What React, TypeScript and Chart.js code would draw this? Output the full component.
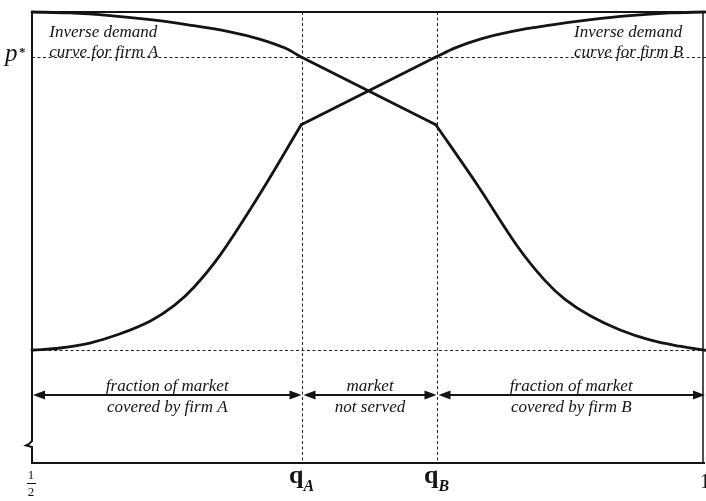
import React, { useEffect, useRef } from "react";
import { Chart, registerables } from "chart.js";

Chart.register(...registerables);

// Key quantities (x: market position from 1/2 to 1, y: price, floor..top)
const qA = 0.7;
const qB = 0.8;
const pStar = 0.9;
const floorPrice = 0.25;

// Inverse demand curve for firm A
const aLeftX = [0.5, 0.528, 0.558, 0.588, 0.617, 0.647, 0.669, 0.688, 0.7];
const aLeftY = [1.0, 0.998, 0.992, 0.983, 0.971, 0.956, 0.94, 0.92, 0.9];
const aMidX = [0.7, 0.8];
const aMidY = [0.9, 0.75];
const aRightX = [0.8, 0.831, 0.861, 0.881, 0.896, 0.915, 0.937, 0.959, 0.981, 1.0];
const aRightY = [0.75, 0.616, 0.479, 0.405, 0.363, 0.326, 0.295, 0.273, 0.259, 0.25];

// Inverse demand curve for firm B
const bLeftX = [0.5, 0.521, 0.543, 0.565, 0.588, 0.606, 0.621, 0.64, 0.67, 0.7];
const bLeftY = [0.25, 0.255, 0.266, 0.286, 0.315, 0.35, 0.392, 0.462, 0.6, 0.75];
const bMidX = [0.7, 0.8];
const bMidY = [0.75, 0.9];
const bRightX = [0.8, 0.814, 0.833, 0.855, 0.885, 0.915, 0.944, 0.974, 1.0];
const bRightY = [0.9, 0.92, 0.94, 0.956, 0.971, 0.983, 0.992, 0.998, 1.0];

// Texts
const labelA = ["Inverse demand", "curve for firm A"];
const labelB = ["Inverse demand", "curve for firm B"];
const spanA = ["fraction of market", "covered by firm A"];
const spanMid = ["market", "not served"];
const spanB = ["fraction of market", "covered by firm B"];

const INK = "#141414";
const SERIF = "'Liberation Serif', 'Times New Roman', serif";

const pts = (xs: number[], ys: number[]) => xs.map((x, i) => ({ x, y: ys[i] }));

const curve = (xs: number[], ys: number[], smooth: boolean) => ({
  data: pts(xs, ys),
  borderColor: INK,
  borderWidth: 2.8,
  pointRadius: 0,
  fill: false,
  clip: false as any,
  cubicInterpolationMode: "default",
  tension: smooth ? 0.35 : 0,
  borderJoinStyle: "round",
  borderCapStyle: "round",
});

const overlay = {
  id: "overlay",
  beforeDatasetsDraw(chart: any) {
    const { ctx, chartArea: a, scales } = chart;
    const xs = scales.x, ys = scales.y;
    ctx.save();
    ctx.strokeStyle = "#262626";
    ctx.lineWidth = 1;
    ctx.setLineDash([3, 2.5]);
    const yP = Math.round(ys.getPixelForValue(pStar)) + 0.5;
    const yF = Math.round(ys.getPixelForValue(floorPrice)) + 0.5;
    ctx.beginPath();
    ctx.moveTo(a.left, yP);
    ctx.lineTo(a.right + 1, yP);
    ctx.moveTo(a.left, yF);
    ctx.lineTo(a.right + 1, yF);
    [qA, qB].forEach((q) => {
      const px = Math.round(xs.getPixelForValue(q)) + 1.5;
      ctx.moveTo(px, a.top);
      ctx.lineTo(px, a.bottom);
    });
    ctx.stroke();
    ctx.restore();
  },
  afterDatasetsDraw(chart: any) {
    const { ctx, chartArea: a, scales } = chart;
    const xs = scales.x, ys = scales.y;
    ctx.save();
    ctx.strokeStyle = INK;
    ctx.fillStyle = INK;
    ctx.setLineDash([]);

    // frame with axis break on the left side
    ctx.lineWidth = 2;
    ctx.lineJoin = "miter";
    ctx.beginPath();
    ctx.moveTo(a.right, a.top);
    ctx.lineTo(a.left, a.top);
    ctx.lineTo(a.left, a.bottom - 22);
    ctx.lineTo(a.left - 3, a.bottom - 19);
    ctx.lineTo(a.left - 6, a.bottom - 17.5);
    ctx.lineTo(a.left, a.bottom - 16);
    ctx.lineTo(a.left, a.bottom);
    ctx.lineTo(a.right, a.bottom);
    ctx.stroke();
    ctx.lineWidth = 1.5;
    ctx.beginPath();
    ctx.moveTo(a.right - 2, a.top);
    ctx.lineTo(a.right - 2, a.bottom);
    ctx.stroke();

    // double-headed arrows
    const yArr = ys.getPixelForValue(0.151);
    const head = 12, hw = 4.5;
    const arrow = (x1: number, x2: number) => {
      ctx.lineWidth = 2;
      ctx.beginPath();
      ctx.moveTo(x1 + head - 2, yArr);
      ctx.lineTo(x2 - head + 2, yArr);
      ctx.stroke();
      ctx.beginPath();
      ctx.moveTo(x1, yArr);
      ctx.lineTo(x1 + head, yArr - hw);
      ctx.lineTo(x1 + head, yArr + hw);
      ctx.closePath();
      ctx.fill();
      ctx.beginPath();
      ctx.moveTo(x2, yArr);
      ctx.lineTo(x2 - head, yArr - hw);
      ctx.lineTo(x2 - head, yArr + hw);
      ctx.closePath();
      ctx.fill();
    };
    const pxA = Math.round(xs.getPixelForValue(qA)) + 1.5;
    const pxB = Math.round(xs.getPixelForValue(qB)) + 1.5;
    const pL = xs.getPixelForValue(0.5);
    const pR = xs.getPixelForValue(1);
    arrow(pL + 1, pxA - 1);
    arrow(pxA + 1, pxB - 1);
    arrow(pxB + 1, pR);

    // span texts
    ctx.font = `italic 17px ${SERIF}`;
    ctx.textAlign = "center";
    ctx.textBaseline = "alphabetic";
    const span = (lines: string[], cx: number) => {
      ctx.fillText(lines[0], cx, yArr - 4);
      ctx.fillText(lines[1], cx, yArr + 17);
    };
    span(spanA, (pL + pxA) / 2);
    span(spanMid, (pxA + pxB) / 2);
    span(spanB, (pxB + pR) / 2);

    // curve labels
    ctx.textAlign = "left";
    const xLA = xs.getPixelForValue(0.5128);
    const xLB = xs.getPixelForValue(0.9027);
    const yL1 = a.top + 25;
    const yL2 = a.top + 45;
    ctx.fillText(labelA[0], xLA, yL1);
    ctx.fillText(labelA[1], xLA, yL2);
    ctx.fillText(labelB[0], xLB, yL1);
    ctx.fillText(labelB[1], xLB, yL2);

    // p*
    const yP = ys.getPixelForValue(pStar);
    ctx.font = `italic 25px ${SERIF}`;
    ctx.textAlign = "left";
    ctx.fillText("p", 5, yP + 4);
    ctx.font = `bold 13px ${SERIF}`;
    ctx.fillText("*", 19, yP - 1);

    // x tick labels
    const base = a.bottom;
    ctx.font = `13px ${SERIF}`;
    ctx.textAlign = "center";
    ctx.fillText("1", pL - 1, base + 16);
    ctx.lineWidth = 1;
    ctx.beginPath();
    ctx.moveTo(pL - 5, base + 20.5);
    ctx.lineTo(pL + 4, base + 20.5);
    ctx.stroke();
    ctx.fillText("2", pL - 1, base + 33);

    const qLabel = (px: number, sub: string) => {
      ctx.font = `bold 26px ${SERIF}`;
      ctx.textAlign = "right";
      ctx.fillText("q", px + 1, base + 20);
      ctx.font = `bold italic 16px ${SERIF}`;
      ctx.textAlign = "left";
      ctx.fillText(sub, px + 1, base + 28);
    };
    qLabel(pxA, "A");
    qLabel(pxB, "B");

    ctx.font = `20px ${SERIF}`;
    ctx.textAlign = "left";
    ctx.fillText("1", pR - 5, base + 25);

    ctx.restore();
  },
};

export default function App() {
  const ref = useRef<HTMLCanvasElement | null>(null);

  useEffect(() => {
    document.body.style.margin = "0";
    const canvas = ref.current;
    if (!canvas) return;
    const chart = new Chart(canvas, {
      type: "line",
      data: {
        datasets: [
          curve(aLeftX, aLeftY, true),
          curve(aMidX, aMidY, false),
          curve(aRightX, aRightY, true),
          curve(bLeftX, bLeftY, true),
          curve(bMidX, bMidY, false),
          curve(bRightX, bRightY, true),
        ] as any,
      },
      options: {
        animation: false,
        responsive: false,
        devicePixelRatio: 1,
        layout: { padding: { left: 32, right: 1, top: 12, bottom: 38 } },
        scales: {
          x: { type: "linear", min: 0.5, max: 1, display: false },
          y: { type: "linear", min: 0, max: 1, display: false },
        },
        plugins: {
          legend: { display: false },
          tooltip: { enabled: false },
        },
        events: [],
      },
      plugins: [overlay],
    });
    return () => chart.destroy();
  }, []);

  return (
    <div style={{ width: 706, height: 501, position: "relative", overflow: "hidden", background: "#fff" }}>
      <canvas ref={ref} width={706} height={501} style={{ width: 706, height: 501, display: "block" }} />
    </div>
  );
}
